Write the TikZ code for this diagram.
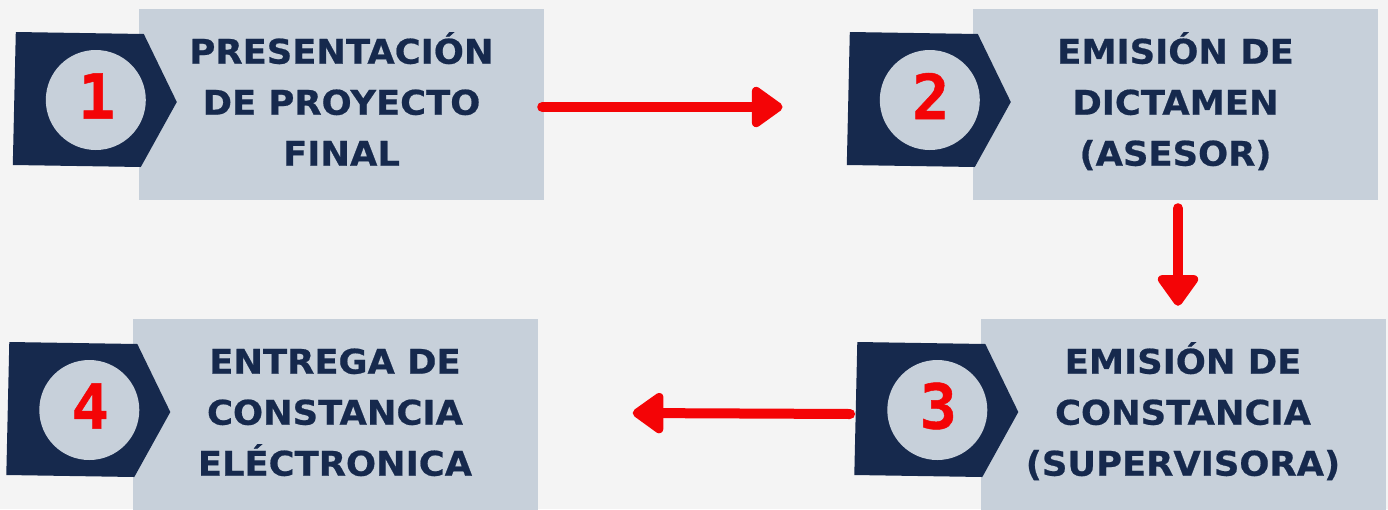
\documentclass[tikz,border=0pt]{standalone}
\usepackage{fontspec}
\usetikzlibrary{arrows.meta}

\newfontfamily\pasofont[FakeStretch=1.04, FakeBold=0.6]{DejaVu Sans Bold}
\newfontfamily\cifrafont[FakeBold=0.8]{DejaVu Sans Mono}

\definecolor{marino}{HTML}{16294D}
\definecolor{pizarra}{HTML}{C7D0DA}
\definecolor{fondo}{HTML}{F4F4F4}
\definecolor{rojo}{HTML}{F40406}

% badge: pentagon, disc and number around coordinate #1
\newcommand\insignia[3]{%
  \fill[marino] ([shift={(-80,-68)}]#1) -- ([shift={(48,-66)}]#1) -- ([shift={(81,2)}]#1)
    -- ([shift={(45,67)}]#1) -- ([shift={(-83,65)}]#1) -- cycle;
  \node[disco] (#2) at (#1) {};
  \node[cifra] at ([shift={(1,-4)}]#1) {#3};
}

\begin{document}
\begin{tikzpicture}[
    x=1pt, y=-1pt,
    caja/.style={fill=pizarra, minimum width=405pt, minimum height=191pt, inner sep=0pt, align=center,
      text=marino, font=\pasofont\fontsize{34}{51}\selectfont},
    disco/.style={circle, fill=pizarra, minimum size=100pt, inner sep=0pt},
    cifra/.style={text=rojo, inner sep=0pt, font=\cifrafont\bfseries\fontsize{62}{62}\selectfont},
    flecha/.style={draw=rojo, line width=10pt, line cap=round, -{Triangle[round, length=34pt, width=46pt]}}
  ]
  \fill[fondo] (0,0) rectangle (1388,509);
  \useasboundingbox (0,0) rectangle (1388,509);

  \node[caja] (paso1) at (341.5,104.5) {\strut PRESENTACIÓN\\\strut DE PROYECTO\\\strut FINAL};
  \node[caja] (paso2) at (1175.5,104.5) {\strut EMISIÓN DE\\\strut DICTAMEN\\\strut (ASESOR)};
  \node[caja] (paso3) at (1183,414.5) {\strut EMISIÓN DE\\\strut CONSTANCIA\\\strut (SUPERVISORA)};
  \node[caja] (paso4) at (335,414.5) {\strut ENTREGA DE\\\strut CONSTANCIA\\\strut ELÉCTRONICA};

  \coordinate (c1) at ([shift={(-43,-4.5)}]paso1.west);
  \coordinate (c2) at ([shift={(-43,-4.5)}]paso2.west);
  \coordinate (c3) at ([shift={(-43,-4.5)}]paso3.west);
  \coordinate (c4) at ([shift={(-43,-4.5)}]paso4.west);
  \insignia{c1}{n1}{1}
  \insignia{c2}{n2}{2}
  \insignia{c3}{n3}{3}
  \insignia{c4}{n4}{4}

  \draw[flecha] ([shift={(-2,2.5)}]paso1.east) -- ([shift={(-97,7)}]n2.west);
  \draw[flecha] ([shift={(2.5,8)}]paso2.south) -- ([shift={(-5,-13)}]paso3.north);
  \draw[flecha] ([shift={(-37,4)}]n3.west) -- ([shift={(95,-1.5)}]paso4.east);
\end{tikzpicture}
\end{document}
